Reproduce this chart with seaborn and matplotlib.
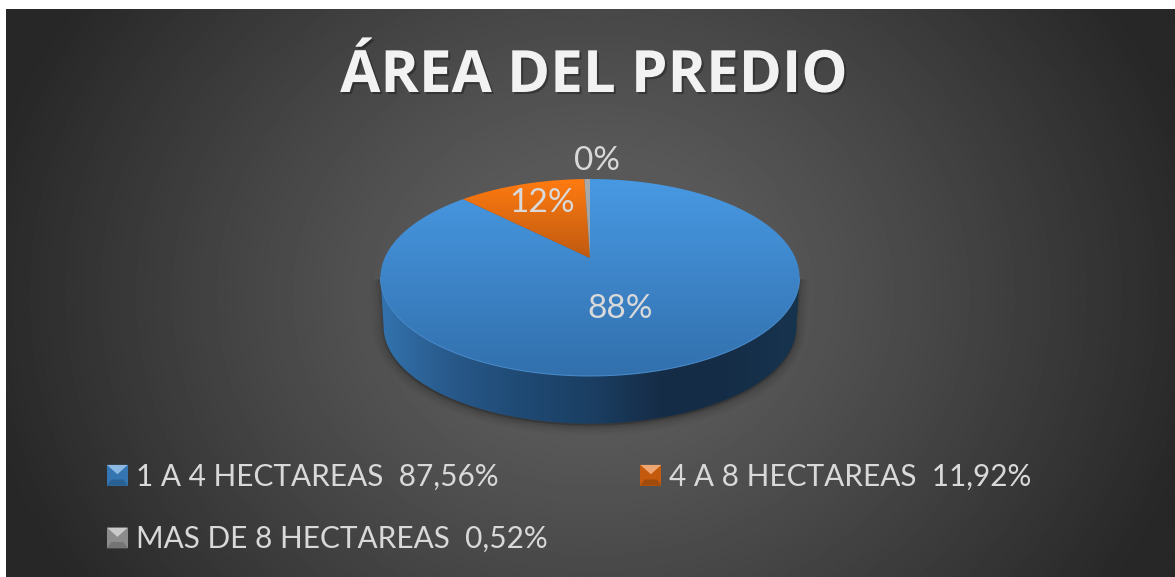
import numpy as np
import pandas as pd
import matplotlib
matplotlib.use("Agg")
import matplotlib.pyplot as plt
import matplotlib.patheffects as pe
from matplotlib.colors import LinearSegmentedColormap
from matplotlib.legend_handler import HandlerBase
from matplotlib.patches import Patch, PathPatch, Polygon
from matplotlib.path import Path
from matplotlib.transforms import Affine2D
import seaborn as sns

# Data
categories = ["1 A 4 HECTAREAS", "4 A 8 HECTAREAS", "MAS DE 8 HECTAREAS"]
shares = [87.56, 11.92, 0.52]
legend_shares = ["87,56%", "11,92%", "0,52%"]
pie_labels = ["88%", "12%", "0%"]
title_text = "ÁREA DEL PREDIO"

df = pd.DataFrame({"area": categories, "share": shares, "label": pie_labels})

sns.set_theme(style="dark")
plt.rcParams["font.family"] = ["Lato", "DejaVu Sans"]

W, H = 1175, 577
TEXT = "#D9D9D9"
top_colors = [("#4899E3", "#3270AD"), ("#FF7B10", "#BF5A10"), ("#ABABAB", "#8E8E8E")]
swatches = sns.color_palette(["#3E8AD0", "#E56A10", "#A5A5A5"])

fig = plt.figure(figsize=(W / 100, H / 100), dpi=100, facecolor="white")
ax = fig.add_axes([0, 0, 1, 1])

# Pie geometry: tilted disc seen in perspective
CX, APEX_Y, A, B, K = 590, 258, 205.4, 94.6, 0.198
DEPTH = 49.5


def project(u, v):
    w = 1 + K * v
    return CX + A * u / w, APEX_Y - B * v / w


def gradient(extent, colors, horizontal=False, clip=None, z=2):
    cmap = LinearSegmentedColormap.from_list("g", colors)
    ramp = np.linspace(0, 1, 256)
    ramp = ramp[None, :] if horizontal else ramp[:, None]
    im = ax.imshow(ramp, cmap=cmap, extent=extent, aspect="auto", zorder=z, origin="upper")
    if clip is not None:
        im.set_clip_path(clip)
    return im


# Slices come from the pie call, then get tilted
wedges, _ = ax.pie(df["share"], startangle=90, counterclock=False, radius=1)
ax.set_aspect("auto")
ax.set_xlim(0, W)
ax.set_ylim(H, 0)
ax.set_axis_off()

# Background
yy, xx = np.mgrid[0:H, 0:W]
dist = np.hypot((xx - 590) / 640, (yy - 290) / 560)
shade = np.clip(0.345 - 0.19 * np.clip((dist - 0.25) / 0.72, 0, 1) ** 1.1, 0, 1)
ax.imshow(shade, cmap="gray", vmin=0, vmax=1, extent=(6, W, H, 9), aspect="auto", zorder=0)

# Side wall
theta = np.linspace(0, 2 * np.pi, 721)
ex, ey = project(np.cos(theta), np.sin(theta))
left, right = ex.argmin(), ex.argmax()
idx = np.r_[left:721, 0:right + 1] if left > right else np.arange(left, right + 1)
low_x, low_y = ex[idx], ey[idx]
wall_x = CX + (low_x - CX) * 0.985
wall_y = APEX_Y + DEPTH + (low_y - APEX_Y) * 0.985
wall = np.r_[np.c_[low_x, low_y], np.c_[wall_x, wall_y][::-1]]

for lw, alpha in [(14, 0.03), (10, 0.04), (6, 0.05), (3, 0.07)]:
    ax.add_patch(Polygon(wall + [0, 2], closed=True, fc="black", ec="black", lw=lw, alpha=alpha, zorder=1))

wall_patch = Polygon(wall, closed=True, fc="none", ec="none", transform=ax.transData, zorder=2)
ax.add_patch(wall_patch)
gradient((380, 800, 430, 280), ["#3373AE", "#28598A", "#1F4A74", "#1B3F63", "#162C47", "#152D47", "#17344F"],
         horizontal=True, clip=wall_patch)

# Top face
for wedge, cols in zip(wedges, top_colors):
    # flatten the bezier outline at a large scale so the arc stays smooth
    big = Affine2D().scale(1000).transform_path(wedge.get_patch_transform().transform_path(wedge.get_path()))
    outline = big.to_polygons(closed_only=False)[0] / 1000
    px, py = project(outline[:, 0], outline[:, 1])
    shape = Polygon(np.c_[px, py], closed=True, fc="none", ec="none", zorder=3)
    wedge.remove()
    ax.add_patch(shape)
    if cols[0] == "#FF7B10":
        extent = (380, 800, 258, 179)
    else:
        extent = (380, 800, 376, 179)
    gradient(extent, cols, clip=shape, z=3)

rim = Path(np.c_[low_x, low_y])
ax.add_patch(PathPatch(rim, fc="none", ec="#4688C8", lw=0.8, zorder=4))

# Slice labels
label_xy = [(620, 309), (542, 203), (597, 161)]
for (lx, ly), lab in zip(label_xy, df["label"]):
    ax.text(lx, ly, lab, color=TEXT, fontsize=24, ha="center", va="center", zorder=5)

# Title
ax.text(594, 92, title_text, color="#F2F2F2", fontsize=42, fontweight="bold",
        family=["Open Sans", "DejaVu Sans"], ha="center", va="baseline", zorder=5,
        path_effects=[pe.withSimplePatchShadow(offset=(1.5, -1.5), shadow_rgbFace="black", alpha=0.3)])


# Legend with bevelled keys
class BevelHandler(HandlerBase):
    def create_artists(self, legend, orig, xd, yd, width, height, fontsize, trans):
        c = np.array(orig.get_facecolor()[:3])
        s = width
        x0 = -xd
        y0 = -yd + (height - s) / 2
        body = Polygon([(x0, y0), (x0 + s, y0), (x0 + s, y0 + s), (x0, y0 + s)], closed=True,
                       fc=c * 0.85, ec="none", transform=trans)
        foot = Polygon([(x0, y0), (x0 + s, y0), (x0 + s * 0.8, y0 + s * 0.3), (x0 + s * 0.2, y0 + s * 0.3)],
                       closed=True, fc=c * 0.7, ec="none", transform=trans)
        cap = Polygon([(x0, y0 + s), (x0 + s, y0 + s), (x0 + s / 2, y0 + s * 0.55)], closed=True,
                      fc=np.clip(c * 0.6 + 0.4, 0, 1), ec="none", transform=trans)
        return [body, foot, cap]


handles = [Patch(facecolor=c) for c in swatches]
labels = [f"{c}  {s}" for c, s in zip(categories, legend_shares)]
order = [0, 2, 1]
ax.legend([handles[i] for i in order], [labels[i] for i in order], ncol=2,
          handler_map={Patch: BevelHandler()}, loc="upper left",
          bbox_to_anchor=(107 / W, 1 - 462 / H), frameon=False, fontsize=21.4, labelcolor=TEXT,
          handlelength=0.7, handleheight=1.0, handletextpad=0.27, columnspacing=3.13, labelspacing=1.15,
          borderpad=0, borderaxespad=0)

fig.savefig("out.png", dpi=100, facecolor="white")
